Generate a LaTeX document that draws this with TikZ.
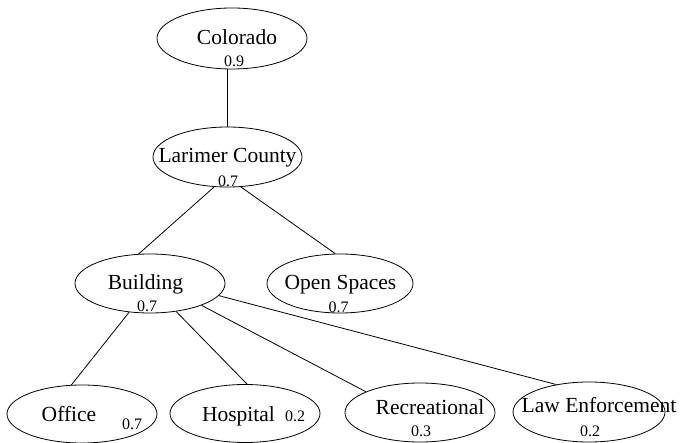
\documentclass[tikz,border=0pt]{standalone}
\usepackage{fontspec}
\setmainfont{Liberation Serif}
\usetikzlibrary{shapes.geometric}
\begin{document}
\begin{tikzpicture}[x=1pt,y=-1pt,
  ell/.style={draw,ellipse,inner sep=0pt,line width=0.8pt,minimum width=150pt,minimum height=60pt},
  lbl/.style={anchor=base,inner sep=0pt,font=\fontsize{21.5}{24}\selectfont},
  num/.style={anchor=base,inner sep=0pt,font=\fontsize{16}{18}\selectfont},
  edge/.style={line width=0.8pt}]
\useasboundingbox (0,0) rectangle (681,443);
% ellipses
\node[ell,minimum height=61pt] (col) at (232,38.5) {};
\node[ell,minimum width=149pt] (lar) at (227.5,157) {};
\node[ell,minimum height=59pt] (bld) at (150,283.5) {};
\node[ell,minimum width=146pt,minimum height=59pt] (ops) at (340,283.5) {};
\node[ell,minimum height=58pt] (off) at (82,414) {};
\node[ell,minimum height=58pt] (hos) at (245,413.5) {};
\node[ell,minimum height=59pt] (rec) at (420,412.5) {};
\node[ell,minimum width=152pt] (law) at (589,412) {};
% labels
\node[lbl] (colT) at (237,45) {Colorado};
\node[num] (colN) at (234,67) {0.9};
\node[lbl] (larT) at (227.5,163) {Larimer County};
\node[num] (larN) at (228,187) {0.7};
\node[lbl] (bldT) at (145.5,290) {Building};
\node[num] (bldN) at (147,312) {0.7};
\node[lbl] (opsT) at (340.5,290) {Open Spaces};
\node[num] (opsN) at (338.5,313) {0.7};
\node[lbl] (offT) at (69,422) {Office};
\node[num] (offN) at (132,430) {0.7};
\node[lbl] (hosT) at (238.5,422) {Hospital};
\node[num] (hosN) at (295,422) {0.2};
\node[lbl] (recT) at (430,415) {Recreational};
\node[num] (recN) at (421,437) {0.3};
\node[lbl] (lawT) at (599,413) {Law Enforcement};
\node[num] (lawN) at (590,437) {0.2};
% connectors
\draw[edge] (lar.north |- col.south) -- (lar.north);
\draw[edge] (lar.-114) -- (bld.111);
\draw[edge] (lar.-66) -- (ops.99);
\draw[edge] (bld.-126.7) -- (off.110.8);
\draw[edge] (bld.-47.7) -- (hos.86);
\draw[edge] (bld.-23.6) -- (rec.159.6);
\draw[edge] (bld.-10.1) -- (law.140.5);
\end{tikzpicture}
\end{document}
